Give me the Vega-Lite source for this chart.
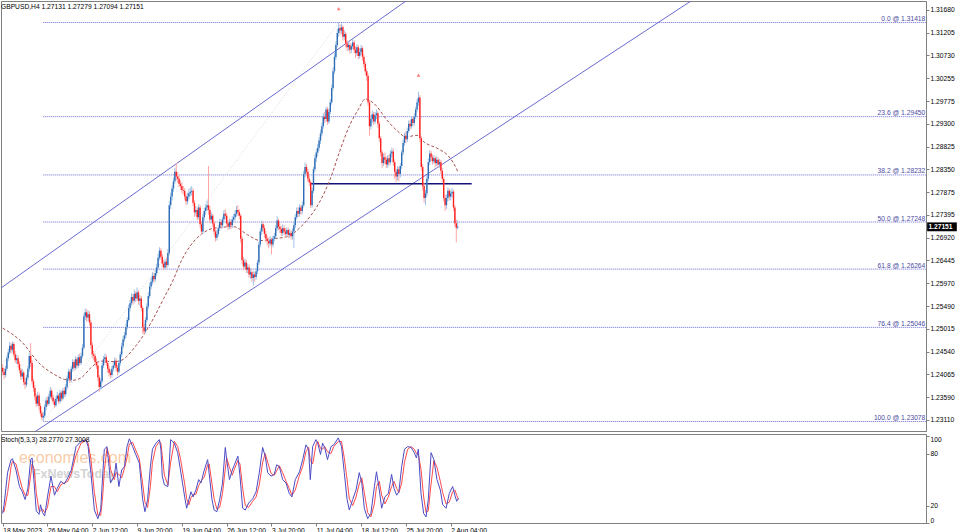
{
"$schema":"https://vega.github.io/schema/vega-lite/v6.json",
"background":"white",
"padding":0,
"autosize":{"type":"pad"},
"spacing":1,
"config":{"view":{"stroke":"#808080","strokeWidth":1},"axis":{"labelFont":"Liberation Sans","labelFontSize":6.7,"labelColor":"#000000","tickColor":"#808080","domainColor":"#808080","grid":false,"labelOverlap":false,"labelFlush":false,"labelBound":false}},
"datasets":{
"bars":[
{"i":0,"o":1.242,"h":1.2428,"l":1.2404,"c":1.2412},{"i":1,"o":1.2412,"h":1.242,"l":1.2396,"c":1.2405},{"i":2,"o":1.2405,"h":1.2424,"l":1.24,"c":1.2418},{"i":3,"o":1.2418,"h":1.2446,"l":1.2414,"c":1.244},{"i":4,"o":1.244,"h":1.246,"l":1.2434,"c":1.2452},{"i":5,"o":1.2452,"h":1.2474,"l":1.2448,"c":1.2466},{"i":6,"o":1.2466,"h":1.2472,"l":1.245,"c":1.2458},{"i":7,"o":1.2458,"h":1.2475,"l":1.2452,"c":1.247},{"i":8,"o":1.247,"h":1.2474,"l":1.2442,"c":1.2448},{"i":9,"o":1.2448,"h":1.2455,"l":1.243,"c":1.2436},
{"i":10,"o":1.2436,"h":1.2448,"l":1.2428,"c":1.244},{"i":11,"o":1.244,"h":1.2446,"l":1.242,"c":1.2428},{"i":12,"o":1.2428,"h":1.2434,"l":1.2408,"c":1.2415},{"i":13,"o":1.2415,"h":1.242,"l":1.2395,"c":1.2402},{"i":14,"o":1.2402,"h":1.2418,"l":1.2396,"c":1.241},{"i":15,"o":1.241,"h":1.2414,"l":1.2384,"c":1.239},{"i":16,"o":1.239,"h":1.2398,"l":1.2376,"c":1.2385},{"i":17,"o":1.2385,"h":1.2406,"l":1.238,"c":1.24},{"i":18,"o":1.24,"h":1.2424,"l":1.2395,"c":1.2418},{"i":19,"o":1.2418,"h":1.2452,"l":1.2412,"c":1.2445},
{"i":20,"o":1.2445,"h":1.2472,"l":1.2422,"c":1.243},{"i":21,"o":1.243,"h":1.2436,"l":1.2385,"c":1.2392},{"i":22,"o":1.2392,"h":1.2398,"l":1.237,"c":1.2378},{"i":23,"o":1.2378,"h":1.2384,"l":1.2352,"c":1.236},{"i":24,"o":1.236,"h":1.2366,"l":1.2338,"c":1.2345},{"i":25,"o":1.2345,"h":1.237,"l":1.234,"c":1.2362},{"i":26,"o":1.2362,"h":1.2368,"l":1.2332,"c":1.234},{"i":27,"o":1.234,"h":1.2346,"l":1.2318,"c":1.2325},{"i":28,"o":1.2325,"h":1.2331,"l":1.231,"c":1.2316},{"i":29,"o":1.2316,"h":1.2328,"l":1.2308,"c":1.232},
{"i":30,"o":1.232,"h":1.2344,"l":1.2315,"c":1.2338},{"i":31,"o":1.2338,"h":1.2358,"l":1.2332,"c":1.2352},{"i":32,"o":1.2352,"h":1.236,"l":1.234,"c":1.2345},{"i":33,"o":1.2345,"h":1.2366,"l":1.2341,"c":1.236},{"i":34,"o":1.236,"h":1.238,"l":1.2355,"c":1.2372},{"i":35,"o":1.2372,"h":1.2376,"l":1.2352,"c":1.2358},{"i":36,"o":1.2358,"h":1.2364,"l":1.2344,"c":1.235},{"i":37,"o":1.235,"h":1.2356,"l":1.2336,"c":1.2342},{"i":38,"o":1.2342,"h":1.236,"l":1.2338,"c":1.2355},{"i":39,"o":1.2355,"h":1.237,"l":1.235,"c":1.2362},
{"i":40,"o":1.2362,"h":1.2366,"l":1.2344,"c":1.235},{"i":41,"o":1.235,"h":1.2374,"l":1.2346,"c":1.2368},{"i":42,"o":1.2368,"h":1.2372,"l":1.235,"c":1.2356},{"i":43,"o":1.2356,"h":1.2378,"l":1.2352,"c":1.2372},{"i":44,"o":1.2372,"h":1.238,"l":1.2358,"c":1.2365},{"i":45,"o":1.2365,"h":1.2386,"l":1.236,"c":1.238},{"i":46,"o":1.238,"h":1.2404,"l":1.2375,"c":1.2398},{"i":47,"o":1.2398,"h":1.2418,"l":1.2392,"c":1.2412},{"i":48,"o":1.2412,"h":1.2416,"l":1.2388,"c":1.2395},{"i":49,"o":1.2395,"h":1.2424,"l":1.239,"c":1.2418},
{"i":50,"o":1.2418,"h":1.2438,"l":1.2412,"c":1.2432},{"i":51,"o":1.2432,"h":1.2436,"l":1.2414,"c":1.242},{"i":52,"o":1.242,"h":1.2444,"l":1.2416,"c":1.2438},{"i":53,"o":1.2438,"h":1.2442,"l":1.2418,"c":1.2425},{"i":54,"o":1.2425,"h":1.2448,"l":1.242,"c":1.2442},{"i":55,"o":1.2442,"h":1.245,"l":1.2424,"c":1.243},{"i":56,"o":1.243,"h":1.2452,"l":1.2426,"c":1.2445},{"i":57,"o":1.2445,"h":1.247,"l":1.244,"c":1.2462},{"i":58,"o":1.2462,"h":1.2534,"l":1.2458,"c":1.2528},{"i":59,"o":1.2528,"h":1.2544,"l":1.252,"c":1.2536},
{"i":60,"o":1.2536,"h":1.2542,"l":1.2516,"c":1.2525},{"i":61,"o":1.2525,"h":1.254,"l":1.2518,"c":1.2532},{"i":62,"o":1.2532,"h":1.2538,"l":1.2508,"c":1.2515},{"i":63,"o":1.2515,"h":1.252,"l":1.246,"c":1.2468},{"i":64,"o":1.2468,"h":1.2474,"l":1.244,"c":1.2448},{"i":65,"o":1.2448,"h":1.2456,"l":1.2436,"c":1.2445},{"i":66,"o":1.2445,"h":1.245,"l":1.2425,"c":1.2432},{"i":67,"o":1.2432,"h":1.244,"l":1.2418,"c":1.2425},{"i":68,"o":1.2425,"h":1.243,"l":1.2392,"c":1.24},{"i":69,"o":1.24,"h":1.2405,"l":1.237,"c":1.238},
{"i":70,"o":1.238,"h":1.2398,"l":1.2374,"c":1.2392},{"i":71,"o":1.2392,"h":1.243,"l":1.2388,"c":1.2425},{"i":72,"o":1.2425,"h":1.2445,"l":1.242,"c":1.2438},{"i":73,"o":1.2438,"h":1.245,"l":1.243,"c":1.2442},{"i":74,"o":1.2442,"h":1.2448,"l":1.2424,"c":1.243},{"i":75,"o":1.243,"h":1.2436,"l":1.241,"c":1.2418},{"i":76,"o":1.2418,"h":1.2424,"l":1.2402,"c":1.241},{"i":77,"o":1.241,"h":1.2416,"l":1.2398,"c":1.2405},{"i":78,"o":1.2405,"h":1.2424,"l":1.24,"c":1.2418},{"i":79,"o":1.2418,"h":1.2432,"l":1.2412,"c":1.2425},
{"i":80,"o":1.2425,"h":1.2442,"l":1.242,"c":1.2435},{"i":81,"o":1.2435,"h":1.244,"l":1.2414,"c":1.242},{"i":82,"o":1.242,"h":1.2426,"l":1.2404,"c":1.2412},{"i":83,"o":1.2412,"h":1.2436,"l":1.2408,"c":1.243},{"i":84,"o":1.243,"h":1.2454,"l":1.2425,"c":1.2448},{"i":85,"o":1.2448,"h":1.2472,"l":1.2442,"c":1.2465},{"i":86,"o":1.2465,"h":1.2487,"l":1.246,"c":1.248},{"i":87,"o":1.248,"h":1.2495,"l":1.2474,"c":1.2488},{"i":88,"o":1.2488,"h":1.2512,"l":1.2482,"c":1.2505},{"i":89,"o":1.2505,"h":1.2526,"l":1.25,"c":1.252},
{"i":90,"o":1.252,"h":1.2552,"l":1.2516,"c":1.2545},{"i":91,"o":1.2545,"h":1.2562,"l":1.2538,"c":1.2555},{"i":92,"o":1.2555,"h":1.2576,"l":1.255,"c":1.2568},{"i":93,"o":1.2568,"h":1.2574,"l":1.2552,"c":1.256},{"i":94,"o":1.256,"h":1.2584,"l":1.2555,"c":1.2575},{"i":95,"o":1.2575,"h":1.258,"l":1.2558,"c":1.2565},{"i":96,"o":1.2565,"h":1.2588,"l":1.256,"c":1.2578},{"i":97,"o":1.2578,"h":1.2582,"l":1.2552,"c":1.256},{"i":98,"o":1.256,"h":1.2572,"l":1.255,"c":1.2565},{"i":99,"o":1.2565,"h":1.257,"l":1.2538,"c":1.2545},
{"i":100,"o":1.2545,"h":1.255,"l":1.2491,"c":1.2505},{"i":101,"o":1.2505,"h":1.2512,"l":1.249,"c":1.2496},{"i":102,"o":1.2496,"h":1.2526,"l":1.2492,"c":1.252},{"i":103,"o":1.252,"h":1.2555,"l":1.2515,"c":1.2548},{"i":104,"o":1.2548,"h":1.2578,"l":1.2542,"c":1.257},{"i":105,"o":1.257,"h":1.2598,"l":1.2565,"c":1.259},{"i":106,"o":1.259,"h":1.2608,"l":1.2584,"c":1.26},{"i":107,"o":1.26,"h":1.262,"l":1.2594,"c":1.2612},{"i":108,"o":1.2612,"h":1.2618,"l":1.2598,"c":1.2605},{"i":109,"o":1.2605,"h":1.2625,"l":1.26,"c":1.2618},
{"i":110,"o":1.2618,"h":1.2638,"l":1.2612,"c":1.263},{"i":111,"o":1.263,"h":1.2658,"l":1.2624,"c":1.265},{"i":112,"o":1.265,"h":1.2672,"l":1.2645,"c":1.2665},{"i":113,"o":1.2665,"h":1.267,"l":1.2646,"c":1.2652},{"i":114,"o":1.2652,"h":1.2658,"l":1.263,"c":1.2638},{"i":115,"o":1.2638,"h":1.2645,"l":1.2624,"c":1.263},{"i":116,"o":1.263,"h":1.2648,"l":1.2625,"c":1.2642},{"i":117,"o":1.2642,"h":1.265,"l":1.2628,"c":1.2635},{"i":118,"o":1.2635,"h":1.2668,"l":1.263,"c":1.266},{"i":119,"o":1.266,"h":1.2768,"l":1.2655,"c":1.276},
{"i":120,"o":1.276,"h":1.2786,"l":1.2752,"c":1.2778},{"i":121,"o":1.2778,"h":1.2802,"l":1.277,"c":1.2795},{"i":122,"o":1.2795,"h":1.2818,"l":1.2788,"c":1.281},{"i":123,"o":1.281,"h":1.2838,"l":1.2805,"c":1.283},{"i":124,"o":1.283,"h":1.2848,"l":1.2812,"c":1.282},{"i":125,"o":1.282,"h":1.283,"l":1.2806,"c":1.2815},{"i":126,"o":1.2815,"h":1.2822,"l":1.2798,"c":1.2805},{"i":127,"o":1.2805,"h":1.2812,"l":1.2792,"c":1.28},{"i":128,"o":1.28,"h":1.2808,"l":1.2785,"c":1.2792},{"i":129,"o":1.2792,"h":1.28,"l":1.2782,"c":1.279},
{"i":130,"o":1.279,"h":1.2796,"l":1.277,"c":1.2778},{"i":131,"o":1.2778,"h":1.2784,"l":1.276,"c":1.2768},{"i":132,"o":1.2768,"h":1.2786,"l":1.2762,"c":1.2778},{"i":133,"o":1.2778,"h":1.2794,"l":1.2772,"c":1.2785},{"i":134,"o":1.2785,"h":1.2797,"l":1.2778,"c":1.2788},{"i":135,"o":1.2788,"h":1.28,"l":1.278,"c":1.279},{"i":136,"o":1.279,"h":1.2795,"l":1.2758,"c":1.2765},{"i":137,"o":1.2765,"h":1.277,"l":1.2736,"c":1.2745},{"i":138,"o":1.2745,"h":1.2758,"l":1.2738,"c":1.275},{"i":139,"o":1.275,"h":1.2756,"l":1.2728,"c":1.2735},
{"i":140,"o":1.2735,"h":1.2762,"l":1.273,"c":1.2755},{"i":141,"o":1.2755,"h":1.276,"l":1.2712,"c":1.272},{"i":142,"o":1.272,"h":1.2726,"l":1.2698,"c":1.2705},{"i":143,"o":1.2705,"h":1.2742,"l":1.27,"c":1.2735},{"i":144,"o":1.2735,"h":1.2755,"l":1.2728,"c":1.2748},{"i":145,"o":1.2748,"h":1.2762,"l":1.274,"c":1.2755},{"i":146,"o":1.2755,"h":1.277,"l":1.2748,"c":1.276},{"i":147,"o":1.276,"h":1.2842,"l":1.274,"c":1.275},{"i":148,"o":1.275,"h":1.2758,"l":1.2722,"c":1.273},{"i":149,"o":1.273,"h":1.2745,"l":1.2722,"c":1.2738},
{"i":150,"o":1.2738,"h":1.2742,"l":1.2715,"c":1.2722},{"i":151,"o":1.2722,"h":1.2728,"l":1.2698,"c":1.2705},{"i":152,"o":1.2705,"h":1.271,"l":1.2684,"c":1.2692},{"i":153,"o":1.2692,"h":1.2708,"l":1.2686,"c":1.27},{"i":154,"o":1.27,"h":1.2718,"l":1.2695,"c":1.2712},{"i":155,"o":1.2712,"h":1.2732,"l":1.2706,"c":1.2725},{"i":156,"o":1.2725,"h":1.273,"l":1.271,"c":1.2718},{"i":157,"o":1.2718,"h":1.2736,"l":1.2712,"c":1.273},{"i":158,"o":1.273,"h":1.275,"l":1.2724,"c":1.2742},{"i":159,"o":1.2742,"h":1.2752,"l":1.273,"c":1.2738},
{"i":160,"o":1.2738,"h":1.2744,"l":1.2715,"c":1.2722},{"i":161,"o":1.2722,"h":1.2728,"l":1.2708,"c":1.2715},{"i":162,"o":1.2715,"h":1.2732,"l":1.271,"c":1.2725},{"i":163,"o":1.2725,"h":1.273,"l":1.271,"c":1.2718},{"i":164,"o":1.2718,"h":1.2737,"l":1.2712,"c":1.273},{"i":165,"o":1.273,"h":1.2742,"l":1.2724,"c":1.2735},{"i":166,"o":1.2735,"h":1.275,"l":1.2728,"c":1.2742},{"i":167,"o":1.2742,"h":1.2758,"l":1.2736,"c":1.275},{"i":168,"o":1.275,"h":1.276,"l":1.2738,"c":1.2745},{"i":169,"o":1.2745,"h":1.2752,"l":1.273,"c":1.2738},
{"i":170,"o":1.2738,"h":1.2742,"l":1.2682,"c":1.269},{"i":171,"o":1.269,"h":1.2695,"l":1.2636,"c":1.2645},{"i":172,"o":1.2645,"h":1.2652,"l":1.2624,"c":1.2632},{"i":173,"o":1.2632,"h":1.2648,"l":1.2626,"c":1.264},{"i":174,"o":1.264,"h":1.2646,"l":1.2618,"c":1.2625},{"i":175,"o":1.2625,"h":1.2638,"l":1.2618,"c":1.263},{"i":176,"o":1.263,"h":1.2636,"l":1.2608,"c":1.2615},{"i":177,"o":1.2615,"h":1.2628,"l":1.2606,"c":1.262},{"i":178,"o":1.262,"h":1.2625,"l":1.26,"c":1.2608},{"i":179,"o":1.2608,"h":1.2622,"l":1.2592,"c":1.2615},
{"i":180,"o":1.2615,"h":1.262,"l":1.26,"c":1.261},{"i":181,"o":1.261,"h":1.2628,"l":1.2604,"c":1.2622},{"i":182,"o":1.2622,"h":1.2646,"l":1.2616,"c":1.264},{"i":183,"o":1.264,"h":1.2684,"l":1.2635,"c":1.2678},{"i":184,"o":1.2678,"h":1.2712,"l":1.2672,"c":1.2705},{"i":185,"o":1.2705,"h":1.2728,"l":1.2698,"c":1.272},{"i":186,"o":1.272,"h":1.2726,"l":1.2705,"c":1.2712},{"i":187,"o":1.2712,"h":1.2718,"l":1.2692,"c":1.27},{"i":188,"o":1.27,"h":1.2706,"l":1.2682,"c":1.269},{"i":189,"o":1.269,"h":1.2696,"l":1.2676,"c":1.2685},
{"i":190,"o":1.2685,"h":1.2692,"l":1.267,"c":1.268},{"i":191,"o":1.268,"h":1.2695,"l":1.2674,"c":1.2688},{"i":192,"o":1.2688,"h":1.2692,"l":1.2657,"c":1.2678},{"i":193,"o":1.2678,"h":1.2696,"l":1.2672,"c":1.269},{"i":194,"o":1.269,"h":1.2702,"l":1.2684,"c":1.2695},{"i":195,"o":1.2695,"h":1.2718,"l":1.269,"c":1.2712},{"i":196,"o":1.2712,"h":1.2737,"l":1.2706,"c":1.2728},{"i":197,"o":1.2728,"h":1.2732,"l":1.2708,"c":1.2715},{"i":198,"o":1.2715,"h":1.2722,"l":1.2702,"c":1.271},{"i":199,"o":1.271,"h":1.2716,"l":1.2695,"c":1.2702},
{"i":200,"o":1.2702,"h":1.272,"l":1.2696,"c":1.2712},{"i":201,"o":1.2712,"h":1.2718,"l":1.2698,"c":1.2705},{"i":202,"o":1.2705,"h":1.2712,"l":1.2692,"c":1.27},{"i":203,"o":1.27,"h":1.2714,"l":1.2694,"c":1.2708},{"i":204,"o":1.2708,"h":1.2713,"l":1.269,"c":1.2698},{"i":205,"o":1.2698,"h":1.271,"l":1.2692,"c":1.2702},{"i":206,"o":1.2702,"h":1.2708,"l":1.2688,"c":1.2695},{"i":207,"o":1.2695,"h":1.2712,"l":1.2688,"c":1.2705},{"i":208,"o":1.2705,"h":1.2724,"l":1.2671,"c":1.2718},{"i":209,"o":1.2718,"h":1.2742,"l":1.2712,"c":1.2735},
{"i":210,"o":1.2735,"h":1.2755,"l":1.273,"c":1.2748},{"i":211,"o":1.2748,"h":1.2756,"l":1.2735,"c":1.2742},{"i":212,"o":1.2742,"h":1.2762,"l":1.2736,"c":1.2755},{"i":213,"o":1.2755,"h":1.276,"l":1.274,"c":1.2748},{"i":214,"o":1.2748,"h":1.2768,"l":1.2741,"c":1.276},{"i":215,"o":1.276,"h":1.2832,"l":1.2755,"c":1.2825},{"i":216,"o":1.2825,"h":1.2849,"l":1.2818,"c":1.284},{"i":217,"o":1.284,"h":1.2846,"l":1.2822,"c":1.283},{"i":218,"o":1.283,"h":1.2836,"l":1.2808,"c":1.2815},{"i":219,"o":1.2815,"h":1.2822,"l":1.28,"c":1.2808},
{"i":220,"o":1.2808,"h":1.2812,"l":1.2754,"c":1.276},{"i":221,"o":1.276,"h":1.2796,"l":1.2755,"c":1.279},{"i":222,"o":1.279,"h":1.284,"l":1.2785,"c":1.2835},{"i":223,"o":1.2835,"h":1.2865,"l":1.283,"c":1.2858},{"i":224,"o":1.2858,"h":1.2878,"l":1.285,"c":1.287},{"i":225,"o":1.287,"h":1.2888,"l":1.2862,"c":1.288},{"i":226,"o":1.288,"h":1.2902,"l":1.2874,"c":1.2895},{"i":227,"o":1.2895,"h":1.2918,"l":1.2888,"c":1.291},{"i":228,"o":1.291,"h":1.2932,"l":1.2904,"c":1.2925},{"i":229,"o":1.2925,"h":1.2952,"l":1.292,"c":1.2945},
{"i":230,"o":1.2945,"h":1.2955,"l":1.2932,"c":1.294},{"i":231,"o":1.294,"h":1.2966,"l":1.2934,"c":1.296},{"i":232,"o":1.296,"h":1.2965,"l":1.2928,"c":1.2935},{"i":233,"o":1.2935,"h":1.2962,"l":1.293,"c":1.2955},{"i":234,"o":1.2955,"h":1.2982,"l":1.295,"c":1.2975},{"i":235,"o":1.2975,"h":1.3012,"l":1.297,"c":1.3005},{"i":236,"o":1.3005,"h":1.3048,"l":1.3,"c":1.304},{"i":237,"o":1.304,"h":1.3078,"l":1.3035,"c":1.307},{"i":238,"o":1.307,"h":1.3102,"l":1.3064,"c":1.3095},{"i":239,"o":1.3095,"h":1.3128,"l":1.309,"c":1.312},
{"i":240,"o":1.312,"h":1.3142,"l":1.3112,"c":1.313},{"i":241,"o":1.313,"h":1.3138,"l":1.3116,"c":1.3125},{"i":242,"o":1.3125,"h":1.314,"l":1.3118,"c":1.3132},{"i":243,"o":1.3132,"h":1.3136,"l":1.3104,"c":1.3112},{"i":244,"o":1.3112,"h":1.3126,"l":1.3105,"c":1.3118},{"i":245,"o":1.3118,"h":1.3122,"l":1.309,"c":1.3098},{"i":246,"o":1.3098,"h":1.3105,"l":1.3082,"c":1.309},{"i":247,"o":1.309,"h":1.3102,"l":1.3083,"c":1.3095},{"i":248,"o":1.3095,"h":1.31,"l":1.3076,"c":1.3085},{"i":249,"o":1.3085,"h":1.3098,"l":1.3078,"c":1.3092},
{"i":250,"o":1.3092,"h":1.3108,"l":1.3086,"c":1.31},{"i":251,"o":1.31,"h":1.3105,"l":1.3078,"c":1.3085},{"i":252,"o":1.3085,"h":1.3092,"l":1.3068,"c":1.3078},{"i":253,"o":1.3078,"h":1.3096,"l":1.3072,"c":1.309},{"i":254,"o":1.309,"h":1.3095,"l":1.3065,"c":1.3072},{"i":255,"o":1.3072,"h":1.3088,"l":1.3066,"c":1.308},{"i":256,"o":1.308,"h":1.3095,"l":1.3074,"c":1.3088},{"i":257,"o":1.3088,"h":1.3092,"l":1.3062,"c":1.307},{"i":258,"o":1.307,"h":1.3075,"l":1.3048,"c":1.3055},{"i":259,"o":1.3055,"h":1.306,"l":1.3032,"c":1.304},
{"i":260,"o":1.304,"h":1.3046,"l":1.302,"c":1.303},{"i":261,"o":1.303,"h":1.3035,"l":1.2968,"c":1.2975},{"i":262,"o":1.2975,"h":1.298,"l":1.2905,"c":1.2925},{"i":263,"o":1.2925,"h":1.2948,"l":1.2918,"c":1.294},{"i":264,"o":1.294,"h":1.2958,"l":1.2932,"c":1.295},{"i":265,"o":1.295,"h":1.2955,"l":1.2928,"c":1.2935},{"i":266,"o":1.2935,"h":1.2955,"l":1.293,"c":1.2948},{"i":267,"o":1.2948,"h":1.296,"l":1.294,"c":1.2952},{"i":268,"o":1.2952,"h":1.2956,"l":1.2922,"c":1.293},{"i":269,"o":1.293,"h":1.2935,"l":1.2892,"c":1.29},
{"i":270,"o":1.29,"h":1.2905,"l":1.2862,"c":1.287},{"i":271,"o":1.287,"h":1.2875,"l":1.2838,"c":1.2848},{"i":272,"o":1.2848,"h":1.2868,"l":1.2842,"c":1.286},{"i":273,"o":1.286,"h":1.287,"l":1.2846,"c":1.2855},{"i":274,"o":1.2855,"h":1.2862,"l":1.2838,"c":1.2845},{"i":275,"o":1.2845,"h":1.2865,"l":1.2838,"c":1.2858},{"i":276,"o":1.2858,"h":1.2866,"l":1.2842,"c":1.285},{"i":277,"o":1.285,"h":1.2875,"l":1.2845,"c":1.2868},{"i":278,"o":1.2868,"h":1.288,"l":1.286,"c":1.2872},{"i":279,"o":1.2872,"h":1.2878,"l":1.2842,"c":1.285},
{"i":280,"o":1.285,"h":1.2856,"l":1.2815,"c":1.283},{"i":281,"o":1.283,"h":1.2836,"l":1.2808,"c":1.282},{"i":282,"o":1.282,"h":1.2842,"l":1.2812,"c":1.2835},{"i":283,"o":1.2835,"h":1.284,"l":1.281,"c":1.2825},{"i":284,"o":1.2825,"h":1.2848,"l":1.2818,"c":1.2842},{"i":285,"o":1.2842,"h":1.2876,"l":1.2836,"c":1.287},{"i":286,"o":1.287,"h":1.2897,"l":1.2864,"c":1.289},{"i":287,"o":1.289,"h":1.2912,"l":1.2884,"c":1.2905},{"i":288,"o":1.2905,"h":1.2914,"l":1.289,"c":1.2898},{"i":289,"o":1.2898,"h":1.2922,"l":1.2892,"c":1.2915},
{"i":290,"o":1.2915,"h":1.2937,"l":1.291,"c":1.293},{"i":291,"o":1.293,"h":1.2938,"l":1.2918,"c":1.2925},{"i":292,"o":1.2925,"h":1.2946,"l":1.292,"c":1.294},{"i":293,"o":1.294,"h":1.2945,"l":1.2925,"c":1.2932},{"i":294,"o":1.2932,"h":1.2952,"l":1.2926,"c":1.2945},{"i":295,"o":1.2945,"h":1.2966,"l":1.294,"c":1.296},{"i":296,"o":1.296,"h":1.2982,"l":1.2954,"c":1.2975},{"i":297,"o":1.2975,"h":1.2997,"l":1.2968,"c":1.2985},{"i":298,"o":1.2985,"h":1.299,"l":1.2892,"c":1.29},{"i":299,"o":1.29,"h":1.2905,"l":1.2832,"c":1.284},
{"i":300,"o":1.284,"h":1.2846,"l":1.279,"c":1.28},{"i":301,"o":1.28,"h":1.2806,"l":1.2765,"c":1.2775},{"i":302,"o":1.2775,"h":1.2792,"l":1.276,"c":1.2785},{"i":303,"o":1.2785,"h":1.2822,"l":1.2778,"c":1.2815},{"i":304,"o":1.2815,"h":1.2858,"l":1.281,"c":1.285},{"i":305,"o":1.285,"h":1.2875,"l":1.2844,"c":1.2868},{"i":306,"o":1.2868,"h":1.2874,"l":1.2852,"c":1.286},{"i":307,"o":1.286,"h":1.2866,"l":1.2845,"c":1.2852},{"i":308,"o":1.2852,"h":1.2865,"l":1.2846,"c":1.2858},{"i":309,"o":1.2858,"h":1.2862,"l":1.284,"c":1.2848},
{"i":310,"o":1.2848,"h":1.2862,"l":1.2842,"c":1.2855},{"i":311,"o":1.2855,"h":1.286,"l":1.2838,"c":1.2845},{"i":312,"o":1.2845,"h":1.2856,"l":1.2838,"c":1.285},{"i":313,"o":1.285,"h":1.2855,"l":1.2825,"c":1.2832},{"i":314,"o":1.2832,"h":1.2838,"l":1.2808,"c":1.2815},{"i":315,"o":1.2815,"h":1.282,"l":1.2768,"c":1.2775},{"i":316,"o":1.2775,"h":1.2782,"l":1.2748,"c":1.276},{"i":317,"o":1.276,"h":1.2782,"l":1.2752,"c":1.2775},{"i":318,"o":1.2775,"h":1.2797,"l":1.2768,"c":1.279},{"i":319,"o":1.279,"h":1.2795,"l":1.277,"c":1.2778},
{"i":320,"o":1.2778,"h":1.2792,"l":1.277,"c":1.2785},{"i":321,"o":1.2785,"h":1.2796,"l":1.2776,"c":1.2788},{"i":322,"o":1.2788,"h":1.2792,"l":1.2748,"c":1.2755},{"i":323,"o":1.2755,"h":1.276,"l":1.2715,"c":1.2722},{"i":324,"o":1.2722,"h":1.273,"l":1.2682,"c":1.2713},{"i":325,"o":1.27131,"h":1.27279,"l":1.27094,"c":1.27151}
],
"ma":[
{"i":0,"v":1.2503},{"i":13,"v":1.2476},{"i":27,"v":1.2427},{"i":37,"v":1.2406},{"i":44,"v":1.2396},{"i":50,"v":1.2394},{"i":56,"v":1.2399},{"i":63,"v":1.242},{"i":70,"v":1.2434},{"i":80,"v":1.2433},{"i":85,"v":1.2436},{"i":94,"v":1.2462},{"i":101,"v":1.249},{"i":108,"v":1.2525},{"i":115,"v":1.2565},{"i":122,"v":1.2605},{"i":127,"v":1.264},{"i":134,"v":1.2675},{"i":141,"v":1.2697},{"i":151,"v":1.2712},{"i":165,"v":1.2715},{"i":175,"v":1.2698},{"i":184,"v":1.2686},{"i":194,"v":1.269},{"i":204,"v":1.2695},{"i":213,"v":1.2715},{"i":220,"v":1.2738},{"i":227,"v":1.277},{"i":234,"v":1.2815},{"i":241,"v":1.2875},{"i":248,"v":1.2928},{"i":254,"v":1.296},{"i":259,"v":1.2982},{"i":265,"v":1.2973},{"i":275,"v":1.2936},{"i":282,"v":1.2915},{"i":288,"v":1.2903},{"i":296,"v":1.2906},{"i":301,"v":1.2892},{"i":311,"v":1.2878},{"i":318,"v":1.2864},{"i":322,"v":1.2848},{"i":325,"v":1.2831}
],
"stoch":[
{"i":0,"k":11,"d":14},{"i":1,"k":21,"d":13},{"i":3.5,"k":58,"d":35},{"i":6,"k":73,"d":65},{"i":7,"k":74,"d":71},{"i":9.5,"k":61,"d":68},{"i":12,"k":42,"d":52},{"i":14,"k":36,"d":40},{"i":16,"k":27,"d":32},{"i":18,"k":40,"d":32},{"i":20,"k":73,"d":55},{"i":21,"k":75,"d":68},{"i":22.5,"k":45,"d":62},{"i":24,"k":14,"d":35},{"i":26,"k":10,"d":14},{"i":27,"k":21,"d":14},{"i":28.5,"k":12,"d":16},{"i":30,"k":8,"d":12},{"i":32,"k":30,"d":18},{"i":34.5,"k":54,"d":42},{"i":37,"k":32,"d":42},{"i":39,"k":40,"d":36},{"i":41.5,"k":48,"d":44},{"i":44,"k":45,"d":46},{"i":46.5,"k":52,"d":48},{"i":49,"k":61,"d":57},{"i":52.4,"k":88,"d":78},{"i":56,"k":94,"d":92},{"i":59.5,"k":96,"d":95},{"i":61,"k":88,"d":92},{"i":63,"k":58,"d":74},{"i":65.5,"k":15,"d":35},{"i":68,"k":5,"d":9},{"i":70,"k":15,"d":9},{"i":71.4,"k":54,"d":30},{"i":72.6,"k":85,"d":60},{"i":74.5,"k":88,"d":86},{"i":76,"k":65,"d":78},{"i":77,"k":46,"d":62},{"i":79.7,"k":54,"d":50},{"i":81,"k":69,"d":58},{"i":83,"k":42,"d":56},{"i":85,"k":61,"d":52},{"i":87,"k":65,"d":63},{"i":88.8,"k":88,"d":75},{"i":90.5,"k":97,"d":91},{"i":92.8,"k":88,"d":93},{"i":95,"k":79,"d":84},{"i":97.6,"k":69,"d":74},{"i":100,"k":27,"d":45},{"i":101.6,"k":13,"d":24},{"i":103.5,"k":27,"d":18},{"i":105.5,"k":65,"d":42},{"i":107,"k":85,"d":70},{"i":109.5,"k":92,"d":88},{"i":112,"k":96,"d":94},{"i":113,"k":85,"d":92},{"i":114,"k":54,"d":78},{"i":115.5,"k":44,"d":55},{"i":118,"k":42,"d":44},{"i":120,"k":96,"d":70},{"i":122.6,"k":92,"d":94},{"i":125,"k":81,"d":88},{"i":127,"k":61,"d":74},{"i":130,"k":30,"d":45},{"i":131.4,"k":17,"d":28},{"i":133,"k":27,"d":21},{"i":134.5,"k":36,"d":29},{"i":136,"k":30,"d":33},{"i":138,"k":38,"d":33},{"i":140,"k":50,"d":43},{"i":141.6,"k":46,"d":48},{"i":144,"k":61,"d":53},{"i":146.4,"k":73,"d":67},{"i":147.5,"k":57,"d":68},{"i":149.5,"k":27,"d":45},{"i":151,"k":15,"d":28},{"i":153,"k":13,"d":16},{"i":155,"k":27,"d":18},{"i":157,"k":46,"d":34},{"i":159,"k":87,"d":62},{"i":160,"k":73,"d":75},{"i":162,"k":50,"d":64},{"i":164,"k":61,"d":55},{"i":165.5,"k":67,"d":62},{"i":168,"k":77,"d":72},{"i":169.5,"k":54,"d":68},{"i":171.4,"k":17,"d":40},{"i":173.3,"k":15,"d":20},{"i":175.7,"k":23,"d":18},{"i":178.6,"k":28,"d":25},{"i":181,"k":36,"d":30},{"i":183.3,"k":58,"d":44},{"i":185.7,"k":87,"d":70},{"i":187.5,"k":77,"d":80},{"i":189.3,"k":58,"d":70},{"i":191.7,"k":54,"d":57},{"i":194,"k":56,"d":55},{"i":195.7,"k":67,"d":60},{"i":197.6,"k":65,"d":66},{"i":200,"k":50,"d":58},{"i":202.4,"k":46,"d":48},{"i":204.7,"k":34,"d":40},{"i":206.6,"k":30,"d":32},{"i":209,"k":50,"d":38},{"i":212,"k":59,"d":55},{"i":214.3,"k":73,"d":65},{"i":216.6,"k":90,"d":82},{"i":218.5,"k":85,"d":87},{"i":219.7,"k":50,"d":72},{"i":221.4,"k":88,"d":68},{"i":223.8,"k":96,"d":90},{"i":225,"k":92,"d":94},{"i":227,"k":79,"d":86},{"i":228.5,"k":92,"d":85},{"i":230,"k":87,"d":88},{"i":232,"k":73,"d":82},{"i":234.5,"k":88,"d":80},{"i":236.5,"k":90,"d":88},{"i":239.7,"k":98,"d":94},{"i":242,"k":88,"d":94},{"i":244,"k":58,"d":75},{"i":246,"k":27,"d":50},{"i":247.6,"k":15,"d":28},{"i":250,"k":27,"d":20},{"i":252.4,"k":38,"d":30},{"i":254.7,"k":58,"d":45},{"i":256.5,"k":46,"d":52},{"i":258.3,"k":17,"d":35},{"i":260.7,"k":5,"d":12},{"i":263,"k":11,"d":7},{"i":265.5,"k":42,"d":22},{"i":267,"k":59,"d":42},{"i":269,"k":38,"d":48},{"i":270.7,"k":17,"d":32},{"i":273,"k":30,"d":22},{"i":275.5,"k":34,"d":30},{"i":277.8,"k":56,"d":42},{"i":279.5,"k":40,"d":48},{"i":281.4,"k":32,"d":40},{"i":283,"k":36,"d":35},{"i":285,"k":65,"d":46},{"i":287,"k":85,"d":70},{"i":289.3,"k":88,"d":85},{"i":291.7,"k":87,"d":88},{"i":294,"k":81,"d":85},{"i":295.5,"k":75,"d":80},{"i":296.9,"k":85,"d":79},{"i":298.8,"k":34,"d":62},{"i":300.7,"k":11,"d":30},{"i":302.4,"k":7,"d":12},{"i":304,"k":27,"d":14},{"i":306,"k":81,"d":45},{"i":308,"k":73,"d":72},{"i":310.2,"k":50,"d":64},{"i":312.6,"k":38,"d":48},{"i":314.3,"k":21,"d":35},{"i":316.7,"k":17,"d":22},{"i":319,"k":34,"d":24},{"i":321.4,"k":42,"d":36},{"i":323,"k":32,"d":38},{"i":324.3,"k":25,"d":32},{"i":325.5,"k":28.28,"d":27.3}
],
"fib":[
{"t":"0.0 @ 1.31418","p":1.31418},{"t":"23.6 @ 1.29450","p":1.2945},{"t":"38.2 @ 1.28232","p":1.28232},{"t":"50.0 @ 1.27248","p":1.27248},{"t":"61.8 @ 1.26264","p":1.26264},{"t":"76.4 @ 1.25046","p":1.25046},{"t":"100.0 @ 1.23078","p":1.23078}
],
"lines":[
{"g":"up","i":-1.2,"p":1.25869},{"g":"up","i":300,"p":1.32116},{"g":"lo","i":20,"p":1.22807},{"g":"lo","i":500,"p":1.32029}
],
"diag":[{"i":29,"p":1.23078},{"i":240,"p":1.31418}],
"hline":[{"i0":220,"i1":335,"p":1.2805}],
"fractals":[{"i":240,"p":1.3171},{"i":297,"p":1.3032}],
"bid":[{"p":1.27151,"t":"1.27151"}],
"wm":[{"t":"economies.com","i":11.6,"v":75},{"t":"FxNewsToday","i":21.6,"v":57}]
},
"vconcat":[
{
"width":925,"height":430,
"title":{"text":"GBPUSD,H4  1.27131 1.27279 1.27094 1.27151","anchor":"start","frame":"group","offset":-10,"font":"Liberation Sans","fontSize":6.7,"fontWeight":"normal","color":"#000000"},
"layer":[
{"mark":{"type":"rule","color":"#c8ecec","strokeWidth":1.5},
 "encoding":{"y":{"datum":1.27151,"type":"quantitative","scale":{"domain":[1.2288,1.31868],"nice":false,"zero":false},
  "axis":{"orient":"right","values":[1.3168,1.31205,1.3073,1.30255,1.29775,1.293,1.28825,1.2835,1.27875,1.27395,1.2692,1.26445,1.2597,1.2549,1.25015,1.2454,1.24065,1.2359,1.2311],"tickCount":100,"format":".5f","title":null,"tickSize":3,"labelPadding":1,"labelOverlap":false,"labelFlush":false,"labelBound":false}}}},
{"data":{"name":"fib"},"mark":{"type":"rule","color":"#6a6ad6","strokeDash":[1,1],"strokeWidth":1},
 "encoding":{"x":{"datum":29,"type":"quantitative","scale":{"domain":[-1.2,659.5],"nice":false,"zero":false},"axis":null},"x2":{"datum":659.5},
  "y":{"field":"p","type":"quantitative","scale":{"domain":[1.2288,1.31868],"nice":false,"zero":false},"axis":{"orient":"right","title":null,"tickCount":100}}}},
{"data":{"name":"fib"},"mark":{"type":"text","align":"right","baseline":"bottom","dy":-0.5,"font":"Liberation Sans","fontSize":6.7,"color":"#4a4aa0"},
 "encoding":{"x":{"datum":659,"type":"quantitative","scale":{"domain":[-1.2,659.5],"nice":false,"zero":false},"axis":null},
  "y":{"field":"p","type":"quantitative","scale":{"domain":[1.2288,1.31868],"nice":false,"zero":false},"axis":{"orient":"right","title":null,"tickCount":100}},"text":{"field":"t"}}},
{"data":{"name":"diag"},"mark":{"type":"line","color":"#d8d8d8","strokeDash":[1,2],"strokeWidth":1,"clip":true},
 "encoding":{"x":{"field":"i","type":"quantitative","scale":{"domain":[-1.2,659.5],"nice":false,"zero":false},"axis":null},
  "y":{"field":"p","type":"quantitative","scale":{"domain":[1.2288,1.31868],"nice":false,"zero":false},"axis":{"orient":"right","title":null,"tickCount":100}}}},
{"data":{"name":"lines"},"mark":{"type":"line","color":"#6a6ad0","strokeWidth":1,"clip":true},
 "encoding":{"detail":{"field":"g"},"x":{"field":"i","type":"quantitative","scale":{"domain":[-1.2,659.5],"nice":false,"zero":false},"axis":null},
  "y":{"field":"p","type":"quantitative","scale":{"domain":[1.2288,1.31868],"nice":false,"zero":false},"axis":{"orient":"right","title":null,"tickCount":100}}}},
{"data":{"name":"hline"},"mark":{"type":"rule","color":"#12127a","strokeWidth":1.5},
 "encoding":{"x":{"field":"i0","type":"quantitative","scale":{"domain":[-1.2,659.5],"nice":false,"zero":false},"axis":null},"x2":{"field":"i1"},
  "y":{"field":"p","type":"quantitative","scale":{"domain":[1.2288,1.31868],"nice":false,"zero":false},"axis":{"orient":"right","title":null,"tickCount":100}}}},
{"data":{"name":"ma"},"mark":{"type":"line","color":"#a85050","strokeDash":[3,2],"strokeWidth":1,"interpolate":"monotone"},
 "encoding":{"x":{"field":"i","type":"quantitative","scale":{"domain":[-1.2,659.5],"nice":false,"zero":false},"axis":null},
  "y":{"field":"v","type":"quantitative","scale":{"domain":[1.2288,1.31868],"nice":false,"zero":false},"axis":{"orient":"right","title":null,"tickCount":100}}}},
{"data":{"name":"bars"},"mark":{"type":"rule","strokeWidth":1},
 "encoding":{"x":{"field":"i","type":"quantitative","scale":{"domain":[-1.2,659.5],"nice":false,"zero":false},"axis":null},
  "y":{"field":"l","type":"quantitative","scale":{"domain":[1.2288,1.31868],"nice":false,"zero":false},"axis":{"orient":"right","title":null,"tickCount":100}},"y2":{"field":"h"},
  "color":{"condition":{"test":"datum.c >= datum.o","value":"#9cc0e6"},"value":"#ffa6a6"}}},
{"data":{"name":"bars"},"mark":{"type":"rule","strokeWidth":1.4},
 "encoding":{"x":{"field":"i","type":"quantitative","scale":{"domain":[-1.2,659.5],"nice":false,"zero":false},"axis":null},
  "y":{"field":"o","type":"quantitative","scale":{"domain":[1.2288,1.31868],"nice":false,"zero":false},"axis":{"orient":"right","title":null,"tickCount":100}},"y2":{"field":"c"},
  "color":{"condition":{"test":"datum.c >= datum.o","value":"#2d6cb5"},"value":"#ff2020"}}},
{"data":{"name":"fractals"},"mark":{"type":"point","shape":"triangle-up","filled":true,"color":"#ff7070","size":14,"opacity":0.9},
 "encoding":{"x":{"field":"i","type":"quantitative","scale":{"domain":[-1.2,659.5],"nice":false,"zero":false},"axis":null},
  "y":{"field":"p","type":"quantitative","scale":{"domain":[1.2288,1.31868],"nice":false,"zero":false},"axis":{"orient":"right","title":null,"tickCount":100}}}},
{"data":{"name":"bid"},"mark":{"type":"rect","color":"#000000","clip":false},
 "encoding":{"x":{"datum":660.3,"type":"quantitative","scale":{"domain":[-1.2,659.5],"nice":false,"zero":false},"axis":null},"x2":{"datum":681.5},
  "y":{"datum":1.2724,"type":"quantitative","scale":{"domain":[1.2288,1.31868],"nice":false,"zero":false},"axis":{"orient":"right","title":null,"tickCount":100}},"y2":{"datum":1.27055}}},
{"data":{"name":"bid"},"mark":{"type":"text","align":"left","baseline":"middle","font":"Liberation Sans","fontSize":6.7,"fontWeight":"bold","color":"#ffffff","clip":false},
 "encoding":{"x":{"datum":661.2,"type":"quantitative","scale":{"domain":[-1.2,659.5],"nice":false,"zero":false},"axis":null},
  "y":{"field":"p","type":"quantitative","scale":{"domain":[1.2288,1.31868],"nice":false,"zero":false},"axis":{"orient":"right","title":null,"tickCount":100}},"text":{"field":"t"}}}
]
},
{
"width":925,"height":89,
"title":{"text":"Stoch(5,3,3) 28.2770 27.3008","anchor":"start","frame":"group","offset":-10,"font":"Liberation Sans","fontSize":6.7,"fontWeight":"normal","color":"#000000"},
"layer":[
{"data":{"name":"wm"},"transform":[{"filter":"datum.t == 'economies.com'"}],"mark":{"type":"text","align":"left","baseline":"middle","font":"Liberation Sans","fontSize":16,"color":"#f4a460","opacity":0.55},
 "encoding":{"x":{"field":"i","type":"quantitative","scale":{"domain":[-1.2,659.5],"nice":false,"zero":false},"axis":{"title":null,"tickCount":100}},
  "y":{"field":"v","type":"quantitative","scale":{"domain":[0,102.5],"nice":false,"zero":false},"axis":{"orient":"right","title":null,"tickCount":100}},"text":{"field":"t"}}},
{"data":{"name":"wm"},"transform":[{"filter":"datum.t == 'FxNewsToday'"}],"mark":{"type":"text","align":"left","baseline":"middle","font":"Liberation Sans","fontSize":12.5,"fontWeight":"bold","color":"#a0a0a0","opacity":0.45},
 "encoding":{"x":{"field":"i","type":"quantitative","scale":{"domain":[-1.2,659.5],"nice":false,"zero":false},"axis":{"title":null,"tickCount":100}},
  "y":{"field":"v","type":"quantitative","scale":{"domain":[0,102.5],"nice":false,"zero":false},"axis":{"orient":"right","title":null,"tickCount":100}},"text":{"field":"t"}}},
{"mark":{"type":"rule","color":"#c0c0c0","strokeDash":[1,2]},
 "encoding":{"y":{"datum":80,"type":"quantitative","scale":{"domain":[0,102.5],"nice":false,"zero":false},
  "axis":{"orient":"right","values":[0,20,80,100],"tickCount":100,"title":null,"tickSize":3,"labelPadding":1,"labelOverlap":false,"labelFlush":false,"labelBound":false,
   "labelBaseline":{"condition":[{"test":"datum.value == 100","value":"top"},{"test":"datum.value == 0","value":"bottom"}],"value":"middle"}}}}},
{"mark":{"type":"rule","color":"#c0c0c0","strokeDash":[1,2]},
 "encoding":{"y":{"datum":20,"type":"quantitative","scale":{"domain":[0,102.5],"nice":false,"zero":false},"axis":{"orient":"right","title":null,"tickCount":100}}}},
{"data":{"name":"stoch"},"mark":{"type":"line","color":"#ff4a4a","strokeWidth":1},
 "encoding":{"x":{"field":"i","type":"quantitative","scale":{"domain":[-1.2,659.5],"nice":false,"zero":false},"axis":{"title":null,"tickCount":100}},
  "y":{"field":"d","type":"quantitative","scale":{"domain":[0,102.5],"nice":false,"zero":false},"axis":{"orient":"right","title":null,"tickCount":100}}}},
{"data":{"name":"stoch"},"mark":{"type":"line","color":"#4b4bc4","strokeWidth":1},
 "encoding":{"x":{"field":"i","type":"quantitative","scale":{"domain":[-1.2,659.5],"nice":false,"zero":false},
   "axis":{"orient":"bottom","values":[0,32,64,96,128,160,192,224,256,288,320],"tickCount":100,"labelExpr":"['18 May 2023','26 May 04:00','2 Jun 12:00','9 Jun 20:00','19 Jun 04:00','26 Jun 12:00','3 Jul 20:00','11 Jul 04:00','18 Jul 12:00','25 Jul 20:00','2 Aug 04:00'][round(datum.value/32)]","labelAlign":"left","labelPadding":1,"tickSize":3,"domain":false,"labelOverlap":false,"labelFlush":false,"labelBound":false,"title":null}},
  "y":{"field":"k","type":"quantitative","scale":{"domain":[0,102.5],"nice":false,"zero":false},"axis":{"orient":"right","title":null,"tickCount":100}}}}
]
}
]
}
